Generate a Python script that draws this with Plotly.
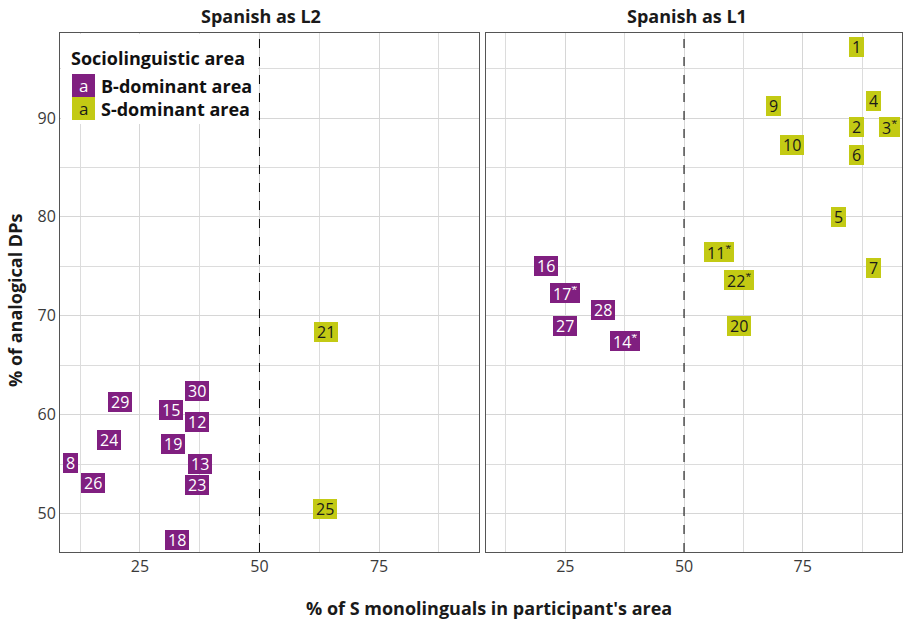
import plotly.graph_objects as go

# ---- data ----
l2_ids = ["21", "25", "30", "29", "15", "12", "24", "19", "8", "13", "26", "23", "18"]
l2_x = [63.9, 63.8, 36.9, 20.9, 31.6, 37.0, 18.6, 32.0, 10.4, 37.6, 15.1, 36.9, 32.8]
l2_y = [68.4, 50.5, 62.4, 61.3, 60.5, 59.3, 57.4, 57.0, 55.1, 55.0, 53.1, 52.9, 47.3]
l2_area = ["S", "S", "B", "B", "B", "B", "B", "B", "B", "B", "B", "B", "B"]

l1_ids = ["1", "4", "9", "2", "3*", "10", "6", "5", "11*", "7", "22*", "16", "17*", "28", "27", "14*", "20"]
l1_x = [86.25, 89.9, 68.8, 86.25, 93.3, 72.8, 86.25, 82.5, 57.4, 89.9, 61.6, 21.0, 25.0, 32.9, 25.0, 37.5, 61.5]
l1_y = [97.2, 91.7, 91.25, 89.1, 89.1, 87.3, 86.3, 80.0, 76.4, 74.8, 73.6, 75.05, 72.3, 70.6, 69.0, 67.4, 69.0]
l1_area = ["S", "S", "S", "S", "S", "S", "S", "S", "S", "S", "S", "B", "B", "B", "B", "B", "S"]

panel_titles = ["Spanish as L2", "Spanish as L1"]
legend_title = "Sociolinguistic area"
legend_labels = {"B": "B-dominant area", "S": "S-dominant area"}
x_ticks = [25, 50, 75]
y_ticks = [50, 60, 70, 80, 90]
threshold = 50

# ---- style ----
FONT = "Open Sans"
COL = {"B": "#801f80", "S": "#c3ca14"}
TXT = {"B": "#ffffff", "S": "#1a1a1a"}
W, H = 904, 624
ML, MR, MT, MB = 60, 2, 33, 72
PW, PH = W - ML - MR, H - MT - MB


def px(x):
    return (x - ML) / PW


def py(y):
    return (H - MB - y) / PH


XR = [8.3, 95.9]
YR = [46.1, 98.6]

fig = go.Figure()
# invisible traces to instantiate both axes
fig.add_trace(go.Scatter(x=l2_x, y=l2_y, mode="markers", marker=dict(opacity=0),
                         hoverinfo="skip", showlegend=False, xaxis="x", yaxis="y"))
fig.add_trace(go.Scatter(x=l1_x, y=l1_y, mode="markers", marker=dict(opacity=0),
                         hoverinfo="skip", showlegend=False, xaxis="x2", yaxis="y2"))

axis_common = dict(
    showgrid=True, gridcolor="#d6d6d6", gridwidth=1,
    showline=True, linecolor="#555555", linewidth=1, mirror=True,
    ticks="", zeroline=False, automargin=False,
    tickfont=dict(family=FONT, size=16, color="#3a3a3a"),
)
xminor = dict(tickvals=[12.5, 37.5, 62.5, 87.5], showgrid=True, gridcolor="#dcdcdc", gridwidth=1)
yminor = dict(tickvals=[55, 65, 75, 85, 95], showgrid=True, gridcolor="#dcdcdc", gridwidth=1)
fig.update_layout(
    width=W, height=H,
    margin=dict(l=ML, r=MR, t=MT, b=MB, autoexpand=False),
    plot_bgcolor="white", paper_bgcolor="white",
    showlegend=False,
    xaxis=dict(domain=[0, (479 - ML) / PW], range=XR, tickvals=x_ticks, minor=xminor,
               anchor="y", **axis_common),
    xaxis2=dict(domain=[(486 - ML) / PW, 1], range=XR, tickvals=x_ticks, minor=xminor,
                anchor="y2", **axis_common),
    yaxis=dict(domain=[0, 1], range=YR, tickvals=y_ticks, minor=yminor,
               anchor="x", **axis_common),
    yaxis2=dict(domain=[0, 1], range=YR, tickvals=y_ticks, matches="y", showticklabels=False,
                minor=yminor, anchor="x2", **axis_common),
)

shapes = []
for xr, yr in (("x", "y domain"), ("x2", "y2 domain")):
    shapes.append(dict(type="line", xref=xr, yref=yr, x0=threshold, x1=threshold, y0=0, y1=1,
                       line=dict(color="black", width=1, dash="dash"), layer="above"))
# legend background
shapes.append(dict(type="rect", xref="paper", yref="paper", x0=px(61), x1=px(258), y0=py(124), y1=py(34),
                   fillcolor="white", line=dict(width=0), layer="above"))
# legend swatches
for i, key in enumerate(["B", "S"]):
    y0 = 74 + 23 * i
    shapes.append(dict(type="rect", xref="paper", yref="paper", x0=px(72), x1=px(95),
                       y0=py(y0 + 23), y1=py(y0), fillcolor=COL[key], line=dict(width=0), layer="above"))
fig.update_layout(shapes=shapes)

ann = []


def label_text(s):
    if s.endswith("*"):
        return s[:-1] + "<sup>*</sup>"
    return s


for ids, xs, ys, areas, xr, yr in ((l2_ids, l2_x, l2_y, l2_area, "x", "y"),
                                     (l1_ids, l1_x, l1_y, l1_area, "x2", "y2")):
    for i, x, y, a in zip(ids, xs, ys, areas):
        ann.append(dict(x=x, y=y, xref=xr, yref=yr, text=label_text(i), showarrow=False,
                        font=dict(family=FONT, size=16, color=TXT[a]), height=14,
                        bgcolor=COL[a], bordercolor=COL[a], borderwidth=1, borderpad=2))

# panel titles
for t, cx in zip(panel_titles, (261, 687)):
    ann.append(dict(x=px(cx), y=py(16), xref="paper", yref="paper", text=f"<b>{t}</b>",
                    showarrow=False, font=dict(family=FONT, size=18, color="#1a1a1a"),
                    xanchor="center", yanchor="middle"))

# axis titles
ann.append(dict(x=px(489), y=py(608), xref="paper", yref="paper",
                text="<b>% of S monolinguals in participant's area</b>", showarrow=False,
                font=dict(family=FONT, size=18, color="#1a1a1a"), xanchor="center", yanchor="middle"))
ann.append(dict(x=px(15), y=py(301), xref="paper", yref="paper",
                text="<b>% of analogical DPs</b>", showarrow=False, textangle=-90,
                font=dict(family=FONT, size=18, color="#1a1a1a"), xanchor="center", yanchor="middle"))

# legend texts
ann.append(dict(x=px(69), y=py(58), xref="paper", yref="paper", text=f"<b>{legend_title}</b>",
                showarrow=False, font=dict(family=FONT, size=18, color="#111111"),
                xanchor="left", yanchor="middle"))
for i, key in enumerate(["B", "S"]):
    cy = 85.5 + 23 * i
    ann.append(dict(x=px(83.5), y=py(cy), xref="paper", yref="paper", text="a", showarrow=False,
                    font=dict(family=FONT, size=17, color=TXT[key]), xanchor="center", yanchor="middle"))
    ann.append(dict(x=px(99), y=py(cy), xref="paper", yref="paper", text=f"<b>{legend_labels[key]}</b>",
                    showarrow=False, font=dict(family=FONT, size=18, color="#111111"),
                    xanchor="left", yanchor="middle"))

fig.update_layout(annotations=ann)
fig.write_html("out.html", config={"displayModeBar": False},
               post_script="document.body.style.margin='0';document.body.style.overflow='hidden';")
